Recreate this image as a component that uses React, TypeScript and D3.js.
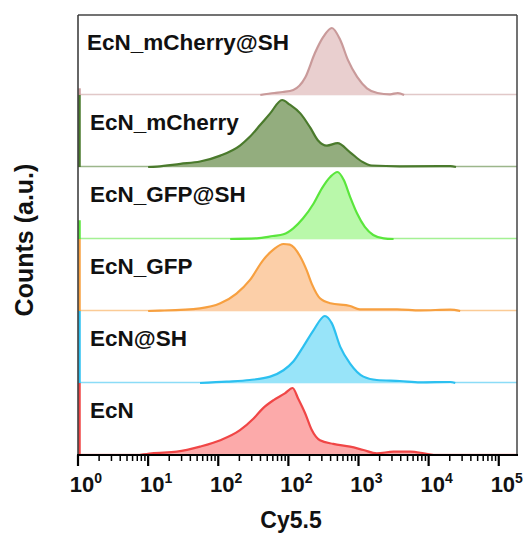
import * as d3 from "d3";

// lane names, top to bottom
const samples = ["EcN_mCherry@SH", "EcN_mCherry", "EcN_GFP@SH", "EcN_GFP", "EcN@SH", "EcN"];
const strokeColors = ["#c99a9a", "#4a7a2c", "#5ae63c", "#f7a040", "#2cc0f0", "#f04646"];
const fillColors = ["#e9cfcf", "#93ad7e", "#b9f8aa", "#fccfa8", "#98e4f9", "#fcaaaa"];

// first-bin (10^0) pile-up, normalised counts
const spikeCounts = [10, 160, 28, 160, 160, 160];

// histograms: [log10(Cy5.5 intensity), normalised counts]
const mCherrySH: [number, number][] = [
  [2.6, 0], [2.8, 3], [2.92, 4.5], [3.07, 7.5], [3.24, 26], [3.38, 63], [3.5, 87],
  [3.62, 100], [3.74, 82], [3.85, 52], [3.98, 27], [4.12, 10], [4.27, 3], [4.45, 1],
  [4.56, 3], [4.65, 0],
];
const mCherry: [number, number][] = [
  [1.0, 0], [1.13, 0.7], [1.46, 4.8], [1.74, 8.2], [2.03, 17], [2.31, 32], [2.45, 45],
  [2.6, 63], [2.74, 80], [2.91, 100], [3.02, 93], [3.17, 80], [3.31, 59], [3.42, 40],
  [3.55, 32], [3.7, 35.5], [3.88, 22], [4.05, 8], [4.19, 2.2], [4.59, 1], [5.31, 1.2],
  [5.39, 0],
];
const gfpSH: [number, number][] = [
  [2.17, 0], [2.55, 1], [2.78, 4.5], [2.93, 7], [3.07, 16], [3.21, 31], [3.36, 53],
  [3.48, 76], [3.6, 93], [3.7, 100], [3.79, 88], [3.88, 63], [3.98, 38], [4.09, 18],
  [4.21, 6], [4.36, 1], [4.5, 0],
];
const gfp: [number, number][] = [
  [1.0, 0], [1.17, 0.5], [1.74, 4], [2.03, 11.5], [2.26, 26], [2.45, 46], [2.64, 76],
  [2.79, 92], [2.93, 100], [3.02, 99], [3.17, 81], [3.26, 61], [3.34, 39], [3.45, 19],
  [3.6, 11.5], [3.88, 7.5], [4.02, 2.5], [4.55, 2.5], [4.88, 1], [5.31, 2], [5.45, 0],
];
const ecnSH: [number, number][] = [
  [1.74, 0], [2.12, 2], [2.45, 4.5], [2.74, 9.5], [2.93, 19], [3.07, 32], [3.21, 54],
  [3.36, 79], [3.52, 100], [3.62, 89], [3.74, 54], [3.88, 29], [4.07, 9.5], [4.26, 4.5],
  [4.59, 3], [4.88, 1], [5.31, 1.5], [5.38, 0],
];
const ecn: [number, number][] = [
  [0.88, 0], [1.05, 2.5], [1.41, 5], [1.74, 12.5], [2.03, 22], [2.31, 37], [2.5, 54],
  [2.64, 70], [2.79, 82], [2.95, 92], [3.06, 100], [3.14, 84], [3.24, 62], [3.33, 38],
  [3.45, 22], [3.64, 16.5], [3.88, 12.5], [4.07, 7.5], [4.26, 2.5], [4.5, 5], [4.74, 5],
  [4.93, 2.5], [5.07, 0],
];
const histograms = [mCherrySH, mCherry, gfpSH, gfp, ecnSH, ecn];

// tick labels as printed on the axis (exponents)
const tickExponents = ["0", "1", "2", "2", "3", "4", "5"];

const W = 526;
const H = 534;
const margin = { top: 15, right: 9, bottom: 79, left: 78 };
const laneStep = 72;
const font = "'Liberation Sans', Arial, sans-serif";

export default function App() {
  const x0 = margin.left;
  const x1 = W - margin.right;
  const yBottom = H - margin.bottom;

  const x = d3.scaleLog().domain([1, Math.pow(10, 6.26)]).range([x0, x1]);
  const baseline = (i: number) => yBottom - (samples.length - 1 - i) * laneStep;
  const laneTop = (i: number) => (i === 0 ? margin.top : baseline(i - 1));

  const majors = d3.range(0, 7).map((e) => Math.pow(10, e));
  const minors: number[] = [];
  for (let e = 0; e < 7; e++) {
    for (let k = 2; k <= 9; k++) {
      const v = k * Math.pow(10, e);
      if (v < x.domain()[1]) minors.push(v);
    }
  }

  return (
    <div style={{ position: "absolute", left: 0, top: 0 }}>
      <svg width={W} height={H} style={{ display: "block", background: "#fff" }}>
        {samples.map((name, i) => {
          const y = d3.scaleLinear().domain([0, 100]).range([baseline(i), baseline(i) - 67]);
          const pts = histograms[i].map(([lv, c]) => [Math.pow(10, lv), c] as [number, number]);
          const area = d3
            .area<[number, number]>()
            .x((d) => x(d[0]))
            .y0(baseline(i))
            .y1((d) => y(d[1]))
            .curve(d3.curveMonotoneX);
          const line = d3
            .line<[number, number]>()
            .x((d) => x(d[0]))
            .y((d) => y(d[1]))
            .curve(d3.curveMonotoneX);
          const spikeTop = Math.max(y(spikeCounts[i]), laneTop(i));
          return (
            <g key={name}>
              <line
                x1={x0}
                x2={x1}
                y1={baseline(i) - 0.5}
                y2={baseline(i) - 0.5}
                stroke={strokeColors[i]}
                strokeOpacity={0.55}
                strokeWidth={1.5}
              />
              <path d={area(pts) || ""} fill={fillColors[i]} />
              <path d={line(pts) || ""} fill="none" stroke={strokeColors[i]} strokeWidth={2.2} strokeLinejoin="round" />
              <line
                x1={x(1) + 1.5}
                x2={x(1) + 1.5}
                y1={baseline(i)}
                y2={spikeTop}
                stroke={strokeColors[i]}
                strokeWidth={2.5}
              />
              <text x={i === 0 ? 87 : 90} y={laneTop(i) + 35} fontFamily={font} fontWeight="bold" fontSize={22.5} fill="#111">
                {name}
              </text>
            </g>
          );
        })}

        {/* frame */}
        <line x1={x0} x2={x1} y1={margin.top} y2={margin.top} stroke="#444" strokeWidth={1.5} />
        <line x1={x1} x2={x1} y1={margin.top} y2={yBottom} stroke="#444" strokeWidth={1.5} />
        <line x1={x0} x2={x0} y1={margin.top} y2={yBottom} stroke="#333" strokeWidth={1.5} />
        <line x1={x0 - 1} x2={x1 + 1} y1={yBottom} y2={yBottom} stroke="#000" strokeWidth={2.2} />

        {/* ticks */}
        {minors.map((v) => (
          <line key={"m" + v} x1={x(v)} x2={x(v)} y1={yBottom} y2={yBottom + 6} stroke="#000" strokeWidth={1.5} />
        ))}
        {majors.map((v, i) => (
          <g key={"M" + i}>
            <line x1={x(v)} x2={x(v)} y1={yBottom} y2={yBottom + 11} stroke="#000" strokeWidth={2.2} />
            <text x={x(v) + 8} y={492} textAnchor="middle" fontFamily={font} fontWeight="bold" fontSize={22} fill="#111">
              10
              <tspan fontSize={14} dy={-9}>
                {tickExponents[i]}
              </tspan>
            </text>
          </g>
        ))}

        {/* axis titles */}
        <text x={291} y={528} textAnchor="middle" fontFamily={font} fontWeight="bold" fontSize={23} fill="#111">
          Cy5.5
        </text>
        <text
          transform={`translate(33,240) rotate(-90)`}
          textAnchor="middle"
          fontFamily={font}
          fontWeight="bold"
          fontSize={25}
          fill="#111"
        >
          Counts (a.u.)
        </text>
      </svg>
    </div>
  );
}
